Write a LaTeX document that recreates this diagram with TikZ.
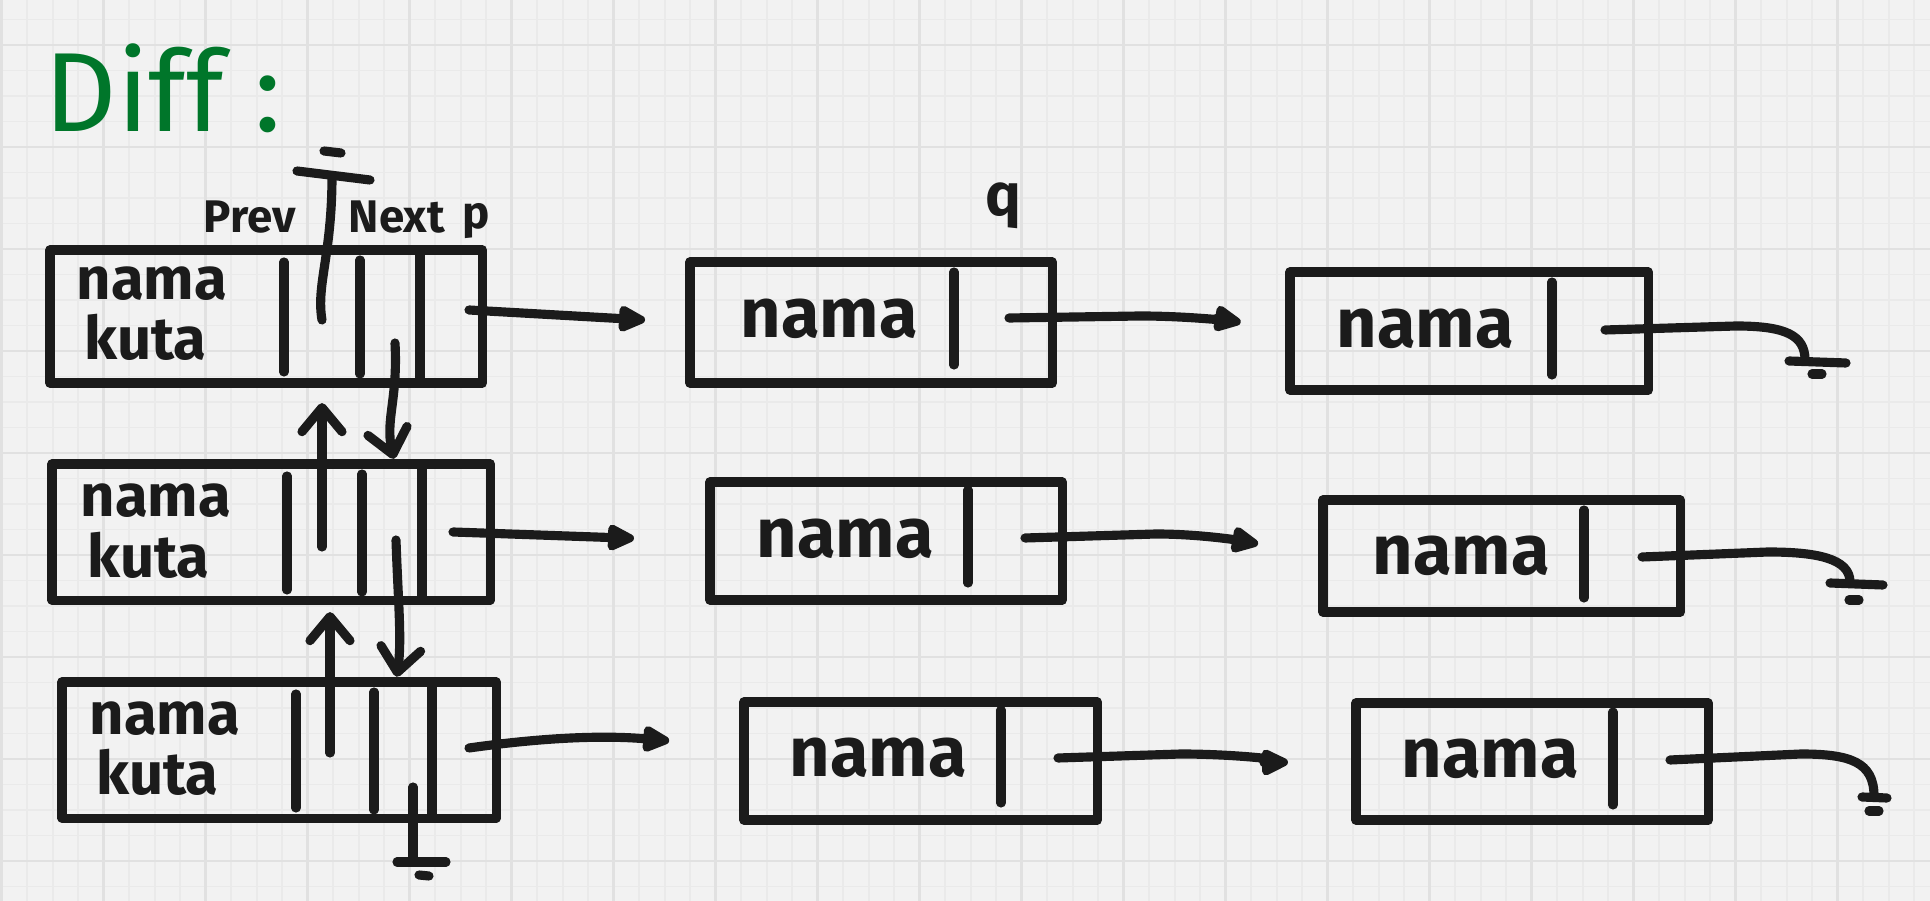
\documentclass[tikz,border=0pt]{standalone}
\usepackage{fontspec}
\setmainfont{Fira Sans}
\usetikzlibrary{arrows.meta,calc}
\definecolor{inkc}{HTML}{1B1B1B}
\definecolor{paperc}{HTML}{F2F2F2}
\definecolor{minorc}{HTML}{EAEAEA}
\definecolor{majorc}{HTML}{E1E1E1}
\definecolor{diffc}{RGB}{0,118,42}
\begin{document}
\begin{tikzpicture}[x=0.01cm,y=-0.01cm,
  ink/.style={draw=inkc,line width=2.6pt,line cap=round,line join=round},
  listbox/.style={ink,rectangle,inner sep=0pt,outer sep=0pt,anchor=north west},
  ptr/.style={ink,-{Triangle[length=3.2mm,width=2.8mm,round]}},
  vptr/.style={ink,-{Straight Barb[length=2.4mm,width=4mm,round]}},
  cityfont/.style={text=inkc,inner sep=0pt,anchor=base west,font=\bfseries\fontsize{17}{17}\selectfont},
  namefont/.style={text=inkc,inner sep=0pt,anchor=base west,font=\bfseries\fontsize{20}{20}\selectfont},
  tagfont/.style={text=inkc,inner sep=0pt,anchor=base west,font=\bfseries\fontsize{13}{13}\selectfont},
]
\useasboundingbox (0,0) rectangle (1930,901);
% paper with grid
\fill[paperc] (0,0) rectangle (1930,901);
\foreach \k in {0,...,75}{\draw[minorc,line width=0.5pt] ({1.7+25.5*\k},0) -- ({1.7+25.5*\k},901);}
\foreach \k in {0,...,34}{\draw[minorc,line width=0.5pt] (0,{19.5+25.5*\k}) -- (1930,{19.5+25.5*\k});}
\foreach \k in {0,...,18}{\draw[majorc,line width=0.8pt] ({1.7+102*\k},0) -- ({1.7+102*\k},901);}
\foreach \k in {0,...,8}{\draw[majorc,line width=0.8pt] (0,{45+102*\k}) -- (1930,{45+102*\k});}

% title
\node[text=diffc,inner sep=0pt,anchor=base west,font=\mdseries\fontsize{32}{32}\selectfont] (title) at (44,132) {Diff :};

% ---------- left column (double linked list) ----------
\node[listbox,minimum width=4.32cm,minimum height=1.33cm] (L1) at (50,250) {};
\node[listbox,minimum width=4.38cm,minimum height=1.36cm] (L2) at (52,464) {};
\node[listbox,minimum width=4.34cm,minimum height=1.36cm] (L3) at (62,682) {};

% dividers
\draw[ink] (284,262) -- (284,372);
\draw[ink] (360,260) -- (360,374);
\draw[ink] (420,250) -- (420,383);
\draw[ink] (287,476) -- (287,590);
\draw[ink] (362,474) -- (362,592);
\draw[ink] (422,464) -- (422,600);
\draw[ink] (296,694) -- (296,808);
\draw[ink] (374,692) -- (374,810);
\draw[ink] (432,682) -- (432,818);

% texts
\node[cityfont] (L1a) at (76,300) {nama};
\node[cityfont] (L1b) at (84,360) {kuta};
\node[cityfont] (L2a) at (80,517) {nama};
\node[cityfont] (L2b) at (87,578) {kuta};
\node[cityfont] (L3a) at (89,735) {nama};
\node[cityfont] (L3b) at (96,795) {kuta};

% labels
\node[tagfont] (prevlbl) at (203,233) {Prev};
\node[tagfont] (nextlbl) at (348,233) {Next};
\node[tagfont] (plbl) at (462,229) {p};

% prev of first node: nil at top
\coordinate (L1v) at (322,320);
\coordinate (g1) at (332,176);
\draw[ink] (L1v) .. controls (316,285) and (332,255) .. (g1);
\draw[ink] (297,171) -- (370,180);
\draw[ink] (324,151) -- (341,153);

% next / prev pointers between rows
\coordinate (L1n) at (395,343);
\coordinate (L2v) at (322,547);
\coordinate (L2n) at (396,540);
\coordinate (L3v) at (330,753);
\draw[vptr,shorten >=1.5pt] (L1n) .. controls (398,400) and (385,420) .. (L1n |- L2.north);
\draw[vptr,shorten >=0.2cm] (L2v) -- (L2v |- L1.south);
\draw[vptr,shorten >=1.5pt] (L2n) .. controls (398,600) and (402,640) .. (L2n |- L3.north);
\draw[vptr,shorten >=0.12cm] (L3v) -- (L3v |- L2.south);

% next of last node: nil at bottom
\coordinate (L3n) at (413,787);
\coordinate (g3) at (413,861);
\draw[ink] (L3n) -- (g3);
\draw[ink] (397,862) -- (446,862);
\draw[ink] (419,875) -- (429,876);

% ---------- sub lists ----------
\node[listbox,minimum width=3.62cm,minimum height=1.21cm] (A) at (690,262) {};
\node[listbox,minimum width=3.58cm,minimum height=1.18cm] (B) at (1290,272) {};
\node[listbox,minimum width=3.52cm,minimum height=1.18cm] (C) at (710,482) {};
\node[listbox,minimum width=3.57cm,minimum height=1.12cm] (D) at (1323,500) {};
\node[listbox,minimum width=3.53cm,minimum height=1.18cm] (E) at (744,702) {};
\node[listbox,minimum width=3.52cm,minimum height=1.17cm] (F) at (1356,703) {};

\draw[ink] (954,272) -- (954,365);
\draw[ink] (1552,282) -- (1552,375);
\draw[ink] (968,490) -- (968,583);
\draw[ink] (1584,510) -- (1584,598);
\draw[ink] (1001,710) -- (1001,803);
\draw[ink] (1613,712) -- (1613,805);

\node[namefont] (At) at (740,338) {nama};
\node[namefont] (Bt) at (1336,348) {nama};
\node[namefont] (Ct) at (756,558) {nama};
\node[namefont] (Dt) at (1372,575) {nama};
\node[namefont] (Et) at (789,777) {nama};
\node[namefont] (Ft) at (1401,778) {nama};

\node[text=inkc,inner sep=0pt,anchor=base west,font=\bfseries\fontsize{17}{17}\selectfont] (qlbl) at (985,216) {q};

% left boxes -> sub lists
\coordinate (L1p) at (469,310);
\coordinate (L2p) at (453,532);
\coordinate (L3p) at (469,748);
\draw[ptr,shorten >=0.45cm] (L1p) -- (A.west);
\draw[ptr,shorten >=0.76cm] (L2p) -- (C.west);
\draw[ptr,shorten >=0.75cm] (L3p) .. controls (540,738) and (600,735) .. ([yshift=0.14cm]E.west);

% sub list links
\coordinate (Ap) at (1009,318);
\coordinate (Cp) at (1025,538);
\coordinate (Ep) at (1058,758);
\draw[ptr,shorten >=0.5cm] (Ap) -- (1140,316) .. controls (1200,316) and (1250,324) .. (B.west);
\draw[ptr,shorten >=0.66cm] (Cp) -- (1156,534) .. controls (1220,534) and (1280,548) .. (D.west);
\draw[ptr,shorten >=0.68cm] (Ep) -- (1181,754) .. controls (1240,754) and (1310,762) .. (F.west);

% nil ends of sub lists
\coordinate (Bp) at (1605,330);
\coordinate (Bg) at (1805,360);
\draw[ink] (Bp) -- (1736,326) .. controls (1785,326) and (1805,335) .. (Bg);
\draw[ink] (1789,361) -- (1846,363);
\draw[ink] (1812,374) -- (1822,374);

\coordinate (Dp) at (1642,557);
\coordinate (Dg) at (1850,582);
\draw[ink] (Dp) -- (1768,552) .. controls (1815,552) and (1850,558) .. (Dg);
\draw[ink] (1830,583) -- (1883,585);
\draw[ink] (1849,600) -- (1859,600);

\coordinate (Fp) at (1670,760);
\coordinate (Fg) at (1874,796);
\draw[ink] (Fp) -- (1801,754) .. controls (1850,754) and (1874,762) .. (Fg);
\draw[ink] (1862,797) -- (1887,798);
\draw[ink] (1869,811) -- (1879,811);
\end{tikzpicture}
\end{document}
